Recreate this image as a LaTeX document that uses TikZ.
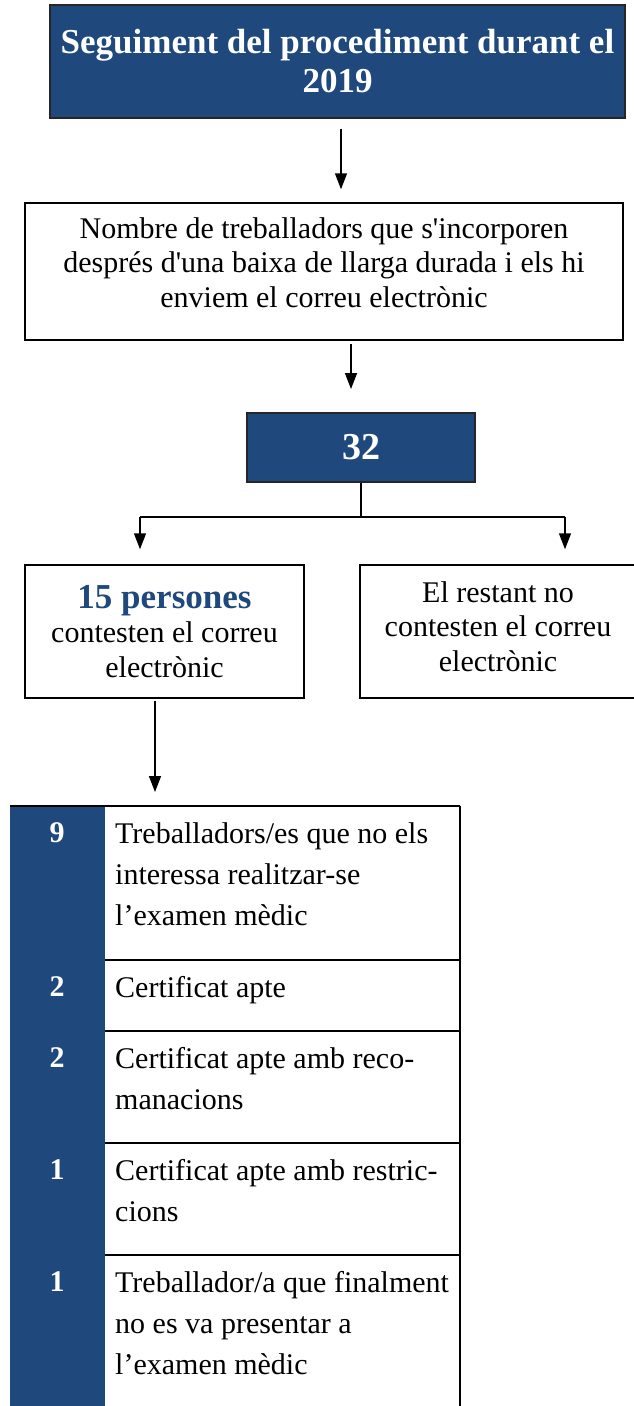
\documentclass[tikz,border=0pt]{standalone}
\usepackage{fontspec}
\setmainfont{Liberation Serif}
\usetikzlibrary{arrows.meta,positioning}
\definecolor{darkblue}{RGB}{31,73,125}

\begin{document}
\begin{tikzpicture}[x=1pt,y=-1pt,
    bluebox/.style={draw=black!85, line width=2pt, fill=darkblue, text=white,
      font=\fontsize{35}{39}\selectfont\bfseries, align=center, inner sep=0pt},
    whitebox/.style={draw=black, line width=1.5pt, fill=white,
      font=\fontsize{30}{34.5}\selectfont, align=center, inner sep=0pt},
    boxtext/.style={align=center, inner sep=0pt, font=\fontsize{30}{34.5}\selectfont},
    link/.style={line width=1.5pt},
    arr/.style={line width=1.5pt, -{Triangle[width=12pt,length=16pt]}},
    numcell/.style={anchor=north, inner sep=0pt, text=white,
      font=\fontsize{30}{41}\selectfont\bfseries},
    txtcell/.style={anchor=north west, inner sep=0pt, align=left,
      font=\fontsize{30}{41}\selectfont}]
    \useasboundingbox (0,0) rectangle (634,1406);

    % Boxes of the flow
    \node[bluebox, minimum width=575pt, minimum height=113pt] (title) at (337.5,61)
      {Seguiment del procediment durant el\\2019};
    \node[whitebox, minimum width=598pt, minimum height=137pt] (intro) at (324,271.5) {};
    \node[boxtext] (introtext) at (324,262.5)
      {Nombre de treballadors que s\textquotesingle incorporen\\després d\textquotesingle una baixa de llarga durada i els hi\\enviem el correu electrònic};
    \node[bluebox, minimum width=228pt, minimum height=69pt,
      font=\fontsize{38}{40}\selectfont\bfseries] (total) at (361,447.5) {32};
    \node[whitebox, minimum width=279pt, minimum height=133pt] (answer) at (164.5,631.5)
      {\textcolor{darkblue}{\fontsize{35}{38}\selectfont\bfseries 15 persones}\\contesten el correu\\electrònic};
    \node[whitebox, minimum width=276pt, minimum height=133pt] (rest) at (498,631.5) {};
    \node[boxtext] (resttext) at (498,626.5)
      {El restant no\\contesten el correu\\electrònic};

    % Connectors
    \coordinate (a1) at (341,0);
    \coordinate (a2) at (351,0);
    \coordinate (forkL) at (140,517);
    \coordinate (forkR) at (565,517);
    \coordinate (tab) at (155,806);
    \draw[arr, shorten <=10pt, shorten >=13pt] (title.south -| a1) -- (intro.north -| a1);
    \draw[arr, shorten <=3pt, shorten >=23pt] (intro.south -| a2) -- (total.north -| a2);
    \draw[link] (total.south) |- (forkL);
    \draw[link] (total.south) |- (forkR);
    \draw[arr, shorten >=15pt] (forkL) -- (forkL |- answer.north);
    \draw[arr, shorten >=15pt] (forkR) -- (forkR |- rest.north);
    \draw[arr, shorten <=2pt, shorten >=14pt] (answer.south -| tab) -- (tab);

    % Table of results
    \fill[darkblue] (10,806) rectangle (105,1412);
    \draw[line width=1.2pt] (10,806) -- (460,806);
    \draw[line width=1.2pt] (460,806) -- (460,1412);
    \foreach \rowtop/\num/\txt [count=\i] in {
        806/9/{Treballadors/es que no els\\interessa realitzar-se\\l’examen mèdic},
        960/2/{Certificat apte},
        1031/2/{Certificat apte amb reco-\\manacions},
        1143/1/{Certificat apte amb restric-\\cions},
        1255/1/{Treballador/a que finalment\\no es va presentar a\\l’examen mèdic}} {
      \ifnum\i>1
        \draw[line width=1.2pt] (105,\rowtop) -- (460,\rowtop);
      \fi
      \node[numcell] (num\i) at (57,\rowtop+16) {\num};
      \node[txtcell] (txt\i) at (115,\rowtop+16) {\txt};
    }
\end{tikzpicture}
\end{document}
